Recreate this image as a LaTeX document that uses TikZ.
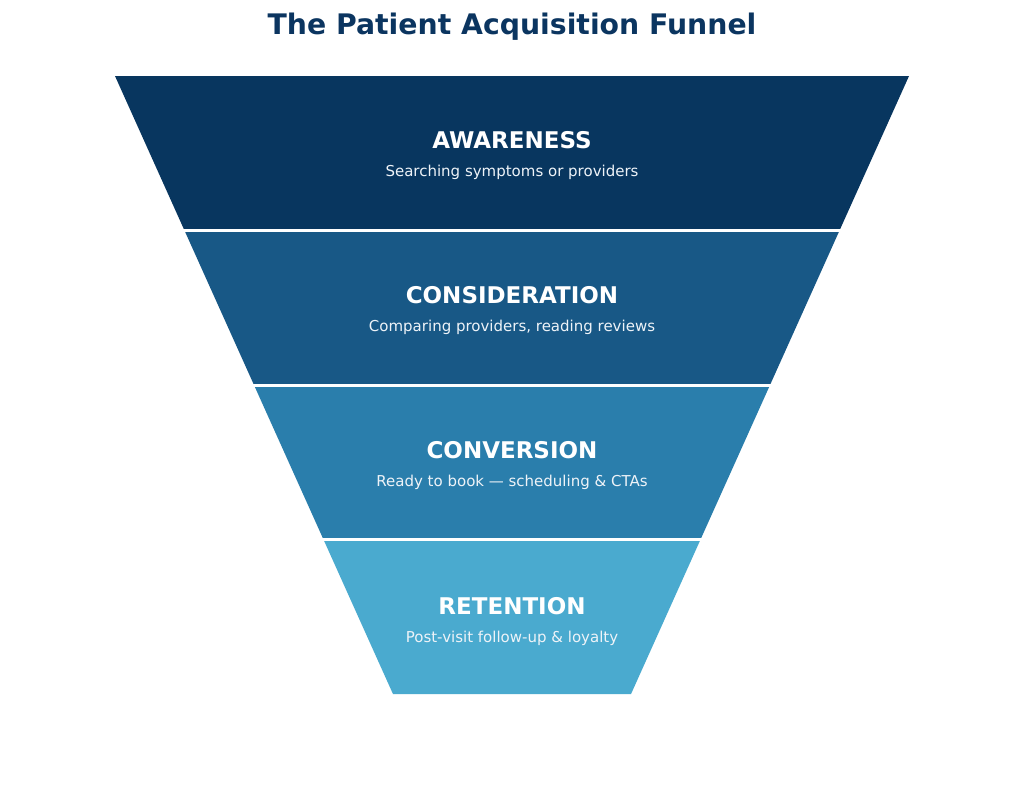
\documentclass[tikz,border=0pt]{standalone}
\usepackage{fontspec}
\setmainfont{DejaVu Sans}
\definecolor{titleblue}{HTML}{0B3560}
\definecolor{segA}{HTML}{08365F}
\definecolor{segB}{HTML}{185886}
\definecolor{segC}{HTML}{2A7EAC}
\definecolor{segD}{HTML}{4AAACF}
\definecolor{subtxt}{HTML}{EEF3F8}
\tikzset{
  seg/.style={draw=none},
  sep/.style={draw=white, line width=3pt},
  head/.style={text=white, font=\fontsize{23}{27}\selectfont\bfseries, inner sep=0pt},
  sub/.style={text=subtxt, font=\fontsize{15}{18}\selectfont, inner sep=0pt},
}
\begin{document}
\begin{tikzpicture}[x=1pt,y=-1pt]
\useasboundingbox (0,0) rectangle (1024,792);
\fill[white] (0,0) rectangle (1024,792);
\node[text=titleblue, font=\fontsize{28.3}{32}\selectfont\bfseries, inner sep=0pt] (title) at (512,26.5) {The Patient Acquisition Funnel};
% funnel: top half-width 397 at y=76, bottom half-width 119 at y=694
\def\slope{0.4498}
\foreach \i/\c in {0/segA,1/segB,2/segC,3/segD}{
  \pgfmathsetmacro{\ya}{76+154.5*\i}
  \pgfmathsetmacro{\yb}{76+154.5*(\i+1)}
  \pgfmathsetmacro{\wa}{397-\slope*154.5*\i}
  \pgfmathsetmacro{\wb}{397-\slope*154.5*(\i+1)}
  \fill[seg, fill=\c] (512-\wa,\ya) -- (512+\wa,\ya) -- (512+\wb,\yb) -- (512-\wb,\yb) -- cycle;
}
\foreach \i in {1,2,3}{
  \pgfmathsetmacro{\ya}{76+154.5*\i}
  \pgfmathsetmacro{\wa}{397-\slope*154.5*\i+4}
  \draw[sep] (512-\wa,\ya) -- (512+\wa,\ya);
}
\node[head] (h1) at (512,140) {AWARENESS};
\node[sub]  (s1) at (512,172.5) {Searching symptoms or providers};
\node[head] (h2) at (512,295.5) {CONSIDERATION};
\node[sub]  (s2) at (512,327.5) {Comparing providers, reading reviews};
\node[head] (h3) at (512,450.5) {CONVERSION};
\node[sub]  (s3) at (512,482.5) {Ready to book — scheduling \& CTAs};
\node[head] (h4) at (512,606) {RETENTION};
\node[sub]  (s4) at (512,638.5) {Post-visit follow-up \& loyalty};
\end{tikzpicture}
\end{document}
